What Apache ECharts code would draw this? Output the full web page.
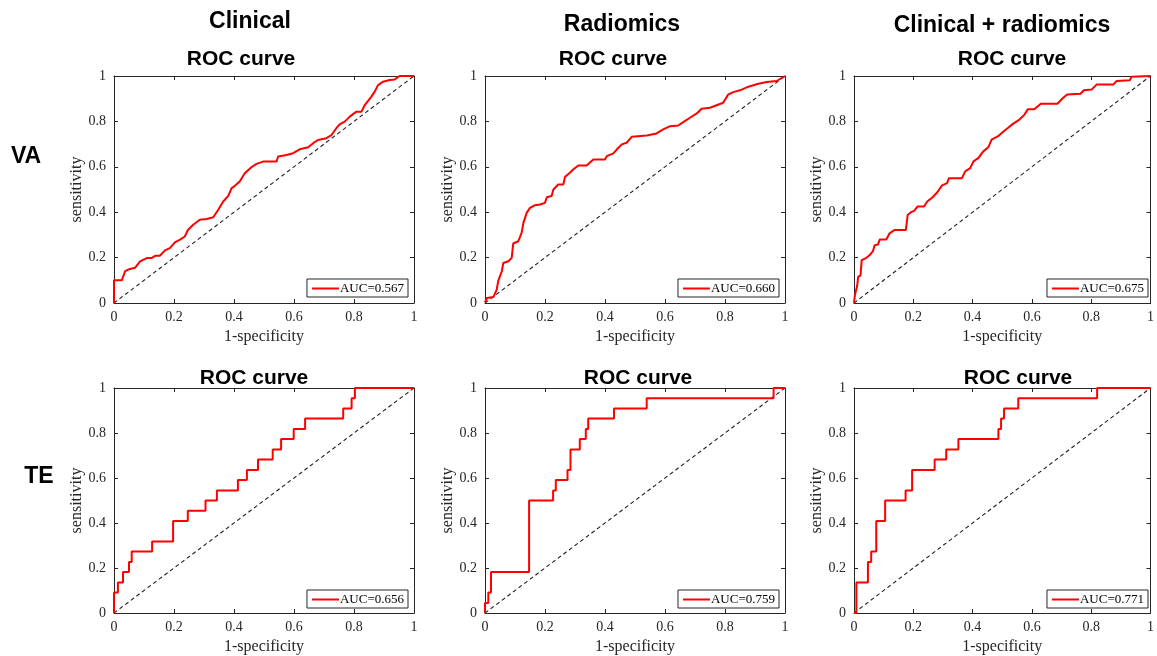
<!DOCTYPE html>
<html>
<head>
<meta charset="utf-8">
<script src="https://cdn.jsdelivr.net/npm/echarts@6/dist/echarts.min.js"></script>
<style>
  html, body { margin: 0; padding: 0; background: #fff; }
  #main { width: 1157px; height: 656px; }
</style>
</head>
<body>
<div id="main"></div>
<script>
// ROC curves
var colTitles = ['Clinical', 'Radiomics', 'Clinical + radiomics'];
var rowTitles = ['VA', 'TE'];
var tickLabels = ['0', '0.2', '0.4', '0.6', '0.8', '1'];
var aucLabels = ['AUC=0.567', 'AUC=0.660', 'AUC=0.675', 'AUC=0.656', 'AUC=0.759', 'AUC=0.771'];

// VA - clinical
var vaClinX = [0, 0, 0.026, 0.037, 0.053, 0.07, 0.087, 0.109, 0.125, 0.137, 0.153, 0.17, 0.186, 0.203, 0.22, 0.236, 0.247, 0.264, 0.286, 0.309, 0.331, 0.347, 0.364, 0.381, 0.392, 0.403, 0.419, 0.436, 0.458, 0.475, 0.497, 0.542, 0.547, 0.575, 0.597, 0.619, 0.647, 0.664, 0.68, 0.708, 0.725, 0.741, 0.752, 0.769, 0.786, 0.808, 0.825, 0.836, 0.858, 0.869, 0.88, 0.897, 0.919, 0.936, 0.952, 1];
var vaClinY = [0, 0.10, 0.10, 0.14, 0.15, 0.155, 0.183, 0.198, 0.198, 0.208, 0.208, 0.232, 0.242, 0.267, 0.279, 0.293, 0.323, 0.345, 0.367, 0.37, 0.378, 0.41, 0.447, 0.472, 0.506, 0.516, 0.535, 0.572, 0.598, 0.613, 0.623, 0.623, 0.645, 0.652, 0.66, 0.677, 0.686, 0.704, 0.718, 0.726, 0.74, 0.77, 0.787, 0.799, 0.821, 0.843, 0.843, 0.872, 0.909, 0.931, 0.96, 0.975, 0.982, 0.985, 1, 1];

// VA - radiomics
var vaRadX = [0, 0.006, 0.028, 0.039, 0.044, 0.056, 0.061, 0.078, 0.089, 0.094, 0.111, 0.122, 0.128, 0.139, 0.15, 0.167, 0.183, 0.2, 0.206, 0.222, 0.228, 0.244, 0.261, 0.267, 0.283, 0.294, 0.311, 0.339, 0.361, 0.4, 0.406, 0.428, 0.439, 0.456, 0.472, 0.489, 0.539, 0.572, 0.594, 0.617, 0.644, 0.661, 0.683, 0.706, 0.722, 0.75, 0.772, 0.794, 0.811, 0.828, 0.85, 0.878, 0.911, 0.939, 0.972, 1];
var vaRadY = [0.003, 0.022, 0.026, 0.059, 0.096, 0.14, 0.176, 0.184, 0.199, 0.262, 0.272, 0.309, 0.353, 0.397, 0.419, 0.431, 0.434, 0.441, 0.466, 0.471, 0.5, 0.522, 0.522, 0.556, 0.574, 0.588, 0.606, 0.606, 0.632, 0.632, 0.647, 0.659, 0.676, 0.699, 0.706, 0.732, 0.738, 0.747, 0.765, 0.779, 0.782, 0.797, 0.816, 0.835, 0.856, 0.86, 0.871, 0.882, 0.919, 0.929, 0.937, 0.953, 0.966, 0.974, 0.978, 1];

// VA - clinical + radiomics
var vaCombX = [0, 0.003, 0.011, 0.014, 0.022, 0.026, 0.042, 0.053, 0.064, 0.07, 0.081, 0.087, 0.109, 0.12, 0.137, 0.175, 0.181, 0.192, 0.203, 0.214, 0.236, 0.247, 0.264, 0.281, 0.297, 0.314, 0.32, 0.364, 0.375, 0.392, 0.403, 0.42, 0.436, 0.453, 0.464, 0.486, 0.503, 0.519, 0.536, 0.558, 0.575, 0.586, 0.608, 0.63, 0.686, 0.703, 0.719, 0.764, 0.775, 0.802, 0.819, 0.875, 0.886, 0.93, 0.936, 1];
var vaCombY = [0, 0.034, 0.078, 0.115, 0.122, 0.189, 0.199, 0.211, 0.229, 0.255, 0.258, 0.28, 0.28, 0.307, 0.322, 0.322, 0.388, 0.4, 0.406, 0.425, 0.425, 0.447, 0.465, 0.488, 0.518, 0.528, 0.55, 0.55, 0.58, 0.594, 0.624, 0.639, 0.668, 0.686, 0.72, 0.735, 0.754, 0.771, 0.789, 0.808, 0.83, 0.853, 0.853, 0.878, 0.878, 0.901, 0.919, 0.922, 0.937, 0.941, 0.963, 0.963, 0.978, 0.981, 0.997, 1];

// TE - clinical (step curve)
var teClinX = [0, 0, 0.013, 0.03, 0.05, 0.059, 0.127, 0.197, 0.246, 0.305, 0.343, 0.413, 0.443, 0.48, 0.529, 0.557, 0.599, 0.637, 0.764, 0.792, 0.803, 1];
var teClinY = [0, 0.091, 0.136, 0.182, 0.227, 0.273, 0.318, 0.409, 0.455, 0.5, 0.545, 0.591, 0.636, 0.682, 0.727, 0.773, 0.818, 0.864, 0.909, 0.955, 1, 1];

// TE - radiomics
var teRadX = [0, 0, 0.011, 0.02, 0.147, 0.227, 0.236, 0.275, 0.285, 0.316, 0.336, 0.344, 0.43, 0.539, 0.962, 1];
var teRadY = [0, 0.045, 0.091, 0.182, 0.5, 0.545, 0.591, 0.636, 0.727, 0.773, 0.818, 0.864, 0.909, 0.955, 1, 1];

// TE - clinical + radiomics
var teCombX = [0, 0.008, 0.047, 0.058, 0.075, 0.105, 0.174, 0.196, 0.272, 0.311, 0.352, 0.487, 0.496, 0.506, 0.554, 0.82, 1];
var teCombY = [0, 0.136, 0.227, 0.273, 0.409, 0.5, 0.545, 0.636, 0.682, 0.727, 0.773, 0.818, 0.864, 0.909, 0.955, 1, 1];

var curvesX = [vaClinX, vaRadX, vaCombX, teClinX, teRadX, teCombX];
var curvesY = [vaClinY, vaRadY, vaCombY, teClinY, teRadY, teCombY];

function zip(xs, ys) {
  return xs.map(function (x, i) { return [x, ys[i]]; });
}

(function () {
  var W = 1157, H = 656;
  var myChart = echarts.init(document.getElementById('main'), null, { renderer: 'canvas' });

  var colLeft = [114, 485, 854];
  var plotW = 300;
  var rowTop = [76, 388];
  var plotH = [227, 226];
  // centres of the "ROC curve" labels
  var rocX = [[241, 613, 1012], [254, 638, 1018]];
  var rocY = [59, 378];

  var axisColor = '#262626';
  var serif = '"Liberation Serif", "Times New Roman", serif';
  var sans = '"Liberation Sans", Arial, sans-serif';

  var grids = [], xAxes = [], yAxes = [], series = [], legends = [], graphics = [];

  for (var r = 0; r < 2; r++) {
    for (var c = 0; c < 3; c++) {
      var i = r * 3 + c;
      grids.push({ left: colLeft[c], top: rowTop[r], width: plotW, height: plotH[r] });

      var common = {
        type: 'value', min: 0, max: 1, interval: 0.2, gridIndex: i,
        axisLine: { show: true, onZero: false, lineStyle: { color: axisColor, width: 1 } },
        axisTick: { show: true, inside: true, length: 4, lineStyle: { color: axisColor } },
        splitLine: { show: false }
      };
      xAxes.push(Object.assign({}, common, {
        position: 'bottom',
        name: '1-specificity', nameLocation: 'middle', nameGap: 26,
        nameTextStyle: { fontFamily: serif, fontSize: 16, color: axisColor },
        axisLabel: {
          margin: 7, fontFamily: serif, fontSize: 14, color: axisColor,
          formatter: function (v) { return tickLabels[Math.round(v * 5)]; }
        }
      }));
      xAxes.push(Object.assign({}, common, { position: 'top', axisLabel: { show: false } }));
      yAxes.push(Object.assign({}, common, {
        position: 'left',
        name: 'sensitivity', nameLocation: 'middle', nameGap: 29,
        nameTextStyle: { fontFamily: serif, fontSize: 16, color: axisColor },
        axisLabel: {
          margin: 8, fontFamily: serif, fontSize: 14, color: axisColor,
          formatter: function (v) { return tickLabels[Math.round(v * 5)]; }
        }
      }));
      yAxes.push(Object.assign({}, common, { position: 'right', axisLabel: { show: false } }));

      // chance line
      series.push({
        type: 'line', name: 'chance', xAxisIndex: i * 2, yAxisIndex: i * 2,
        data: [[0, 0], [1, 1]], symbol: 'none', silent: true,
        lineStyle: { color: '#222', width: 1.1, type: [4, 3] }, z: 2
      });
      // ROC curve
      series.push({
        type: 'line', name: aucLabels[i], xAxisIndex: i * 2, yAxisIndex: i * 2,
        data: zip(curvesX[i], curvesY[i]), symbol: 'none', showSymbol: false,
        step: r === 1 ? 'end' : false,
        color: '#ff0000',
        lineStyle: { color: '#ff0000', width: 2 }, z: 3
      });

      legends.push({
        data: [aucLabels[i]],
        icon: 'rect',
        right: W - (colLeft[c] + plotW - 6),
        bottom: H - (rowTop[r] + plotH[r] - 6),
        orient: 'horizontal',
        backgroundColor: '#fff',
        borderColor: axisColor, borderWidth: 1,
        padding: [3, 4, 2, 5],
        itemWidth: 27, itemHeight: 2, itemGap: 0,
        selectedMode: false,
        textStyle: { fontFamily: serif, fontSize: 13, color: '#000', padding: [0, 0, 0, -4] }
      });

      graphics.push({
        type: 'text', x: rocX[r][c], y: rocY[r],
        style: { text: 'ROC curve', font: 'bold 21px ' + sans, fill: '#000', align: 'center', verticalAlign: 'middle' }
      });
    }
  }

  var headX = [250, 622, 1002];
  var headY = [22, 25, 26];
  colTitles.forEach(function (t, k) {
    graphics.push({
      type: 'text', x: headX[k], y: headY[k],
      style: { text: t, font: 'bold 23px ' + sans, fill: '#000', align: 'center', verticalAlign: 'middle' }
    });
  });
  var rowLabX = [26, 39];
  var rowLabY = [157, 477];
  rowTitles.forEach(function (t, k) {
    graphics.push({
      type: 'text', x: rowLabX[k], y: rowLabY[k],
      style: { text: t, font: 'bold 23px ' + sans, fill: '#000', align: 'center', verticalAlign: 'middle' }
    });
  });

  var option = {
    animation: false,
    backgroundColor: '#fff',
    grid: grids,
    xAxis: xAxes,
    yAxis: yAxes,
    legend: legends,
    series: series,
    graphic: graphics
  };

  myChart.setOption(option);
})();
</script>
</body>
</html>
